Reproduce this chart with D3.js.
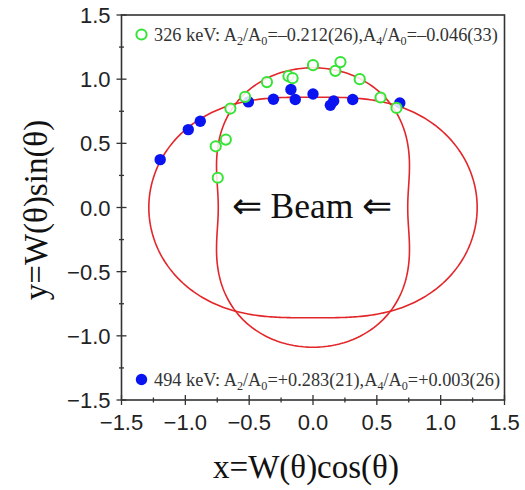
<!DOCTYPE html>
<html>
<head>
<meta charset="utf-8">
<script src="https://cdn.jsdelivr.net/npm/d3@7"></script>
<style>
  html, body { margin: 0; padding: 0; background: #fff; }
  svg { display: block; }
</style>
</head>
<body>
<svg id="chart" width="525" height="490"></svg>
<script>
// Angular distribution coefficients (A2/A0, A4/A0) for the two transitions
const lineLabels = ["326 keV", "494 keV"];
const a2Coef = [-0.212, 0.283];
const a4Coef = [-0.046, 0.003];
const a2Err = ["26", "21"];
const a4Err = ["33", "26"];

// Measured points, x = W(θ)cos(θ), y = W(θ)sin(θ)
const x326 = [-0.746, -0.762, -0.683, -0.647, -0.532, -0.361, -0.192, -0.160, 0.000, 0.175, 0.215, 0.366, 0.529, 0.654];
const y326 = [0.232, 0.477, 0.529, 0.771, 0.862, 0.977, 1.023, 1.008, 1.109, 1.065, 1.133, 1.000, 0.857, 0.776];
const x494 = [-1.197, -0.977, -0.883, -0.506, -0.310, -0.173, -0.139, 0.000, 0.136, 0.162, 0.311, 0.680];
const y494 = [0.373, 0.607, 0.672, 0.823, 0.844, 0.919, 0.841, 0.885, 0.797, 0.830, 0.841, 0.815];

const tickValues = [-1.5, -1.0, -0.5, 0.0, 0.5, 1.0, 1.5];
const minorTickValues = [-1.25, -0.75, -0.25, 0.25, 0.75, 1.25];

const svg = d3.select("#chart");
const plotLeft = 121.5, plotRight = 504.5, plotTop = 15, plotBottom = 400;

const x = d3.scaleLinear().domain([-1.5, 1.5]).range([plotLeft, plotRight]);
const y = d3.scaleLinear().domain([-1.5, 1.5]).range([plotBottom, plotTop]);

const fmt = v => (v < 0 ? "\u2212" : "") + Math.abs(v).toFixed(1);
const axisColor = "#333";

// Frame
svg.append("rect")
  .attr("x", plotLeft).attr("y", plotTop)
  .attr("width", plotRight - plotLeft).attr("height", plotBottom - plotTop)
  .attr("fill", "none").attr("stroke", axisColor).attr("stroke-width", 1.6);

// Bottom axis ticks (crossing the axis line)
const gx = svg.append("g");
gx.selectAll("line.maj").data(tickValues).join("line").attr("class", "maj")
  .attr("x1", d => x(d)).attr("x2", d => x(d))
  .attr("y1", plotBottom - 5).attr("y2", plotBottom + 5)
  .attr("stroke", axisColor).attr("stroke-width", 1.3);
gx.selectAll("line.min").data(minorTickValues).join("line").attr("class", "min")
  .attr("x1", d => x(d)).attr("x2", d => x(d))
  .attr("y1", plotBottom - 2.5).attr("y2", plotBottom + 2.5)
  .attr("stroke", axisColor).attr("stroke-width", 1.3);
gx.selectAll("text").data(tickValues).join("text")
  .attr("x", d => x(d)).attr("y", plotBottom + 30)
  .attr("text-anchor", "middle")
  .attr("font-family", "Liberation Sans, Arial, sans-serif")
  .attr("font-size", 22).attr("fill", "#222")
  .text(fmt);

// Left axis ticks
const gy = svg.append("g");
gy.selectAll("line.maj").data(tickValues).join("line").attr("class", "maj")
  .attr("y1", d => y(d)).attr("y2", d => y(d))
  .attr("x1", plotLeft - 5).attr("x2", plotLeft + 5)
  .attr("stroke", axisColor).attr("stroke-width", 1.3);
gy.selectAll("line.min").data(minorTickValues).join("line").attr("class", "min")
  .attr("y1", d => y(d)).attr("y2", d => y(d))
  .attr("x1", plotLeft - 2.5).attr("x2", plotLeft + 2.5)
  .attr("stroke", axisColor).attr("stroke-width", 1.3);
gy.selectAll("text").data(tickValues).join("text")
  .attr("x", plotLeft - 11).attr("y", d => y(d) + 8)
  .attr("text-anchor", "end")
  .attr("font-family", "Liberation Sans, Arial, sans-serif")
  .attr("font-size", 22).attr("fill", "#222")
  .text(fmt);

// Axis titles
svg.append("text")
  .attr("x", 306).attr("y", 478)
  .attr("text-anchor", "middle")
  .attr("font-family", "Liberation Serif, Times New Roman, serif")
  .attr("font-size", 33).attr("fill", "#111")
  .text("x=W(\u03B8)cos(\u03B8)");
svg.append("text")
  .attr("transform", "translate(47,210) rotate(-90)")
  .attr("text-anchor", "middle")
  .attr("font-family", "Liberation Serif, Times New Roman, serif")
  .attr("font-size", 33).attr("fill", "#111")
  .text("y=W(\u03B8)sin(\u03B8)");

// Fitted distributions W(θ) = 1 + a2 P2(cosθ) + a4 P4(cosθ)
const P2 = c => 0.5 * (3 * c * c - 1);
const P4 = c => (35 * c ** 4 - 30 * c * c + 3) / 8;
const thetas = d3.range(0, 361, 1).map(d => d * Math.PI / 180);
const line = d3.line().x(d => x(d[0])).y(d => y(d[1]));
a2Coef.forEach((a2, i) => {
  const a4 = a4Coef[i];
  const pts = thetas.map(t => {
    const c = Math.cos(t);
    const w = 1 + a2 * P2(c) + a4 * P4(c);
    return [w * c, w * Math.sin(t)];
  });
  svg.append("path").datum(pts)
    .attr("d", line)
    .attr("fill", "none").attr("stroke", "#e3262a").attr("stroke-width", 1.6);
});

// Data points
const blue = "#0a14f0", green = "#36e436";
svg.append("g").selectAll("circle").data(d3.zip(x494, y494)).join("circle")
  .attr("cx", d => x(d[0])).attr("cy", d => y(d[1])).attr("r", 5.7)
  .attr("fill", blue);
svg.append("g").selectAll("circle").data(d3.zip(x326, y326)).join("circle")
  .attr("cx", d => x(d[0])).attr("cy", d => y(d[1])).attr("r", 5.1)
  .attr("fill", "#fff").attr("fill-opacity", 0.85)
  .attr("stroke", green).attr("stroke-width", 2);

// "Beam" label
svg.append("text")
  .attr("x", 312).attr("y", 218)
  .attr("text-anchor", "middle")
  .attr("font-family", "Liberation Serif, Times New Roman, serif")
  .attr("font-size", 35.5).attr("fill", "#111")
  .text("\u21D0 Beam \u21D0");

// Legend entries
function legendText(g, i, sign) {
  const t = g.append("text")
    .attr("x", 154).attr("y", 0)
    .attr("font-family", "Liberation Serif, Times New Roman, serif")
    .attr("font-size", 18.3).attr("fill", "#333");
  const val = v => sign(v) + Math.abs(v).toFixed(3);
  t.append("tspan").text(lineLabels[i] + ": A");
  t.append("tspan").attr("font-size", 12.2).attr("dy", 4).text("2");
  t.append("tspan").attr("dy", -4).text("/A");
  t.append("tspan").attr("font-size", 12.2).attr("dy", 4).text("0");
  t.append("tspan").attr("dy", -4).text("=" + val(a2Coef[i]) + "(" + a2Err[i] + "),A");
  t.append("tspan").attr("font-size", 12.2).attr("dy", 4).text("4");
  t.append("tspan").attr("dy", -4).text("/A");
  t.append("tspan").attr("font-size", 12.2).attr("dy", 4).text("0");
  t.append("tspan").attr("dy", -4).text("=" + val(a4Coef[i]) + "(" + a4Err[i] + ")");
}
const lg1 = svg.append("g").attr("transform", "translate(0,41)");
lg1.append("circle").attr("cx", 141.5).attr("cy", -6.5).attr("r", 5.1)
  .attr("fill", "#fff").attr("stroke", green).attr("stroke-width", 2);
legendText(lg1, 0, v => v < 0 ? "\u2013" : "+");

const lg2 = svg.append("g").attr("transform", "translate(0,386)");
lg2.append("circle").attr("cx", 141.5).attr("cy", -6.5).attr("r", 5.7).attr("fill", blue);
legendText(lg2, 1, v => v < 0 ? "\u2013" : "+");
</script>
</body>
</html>
